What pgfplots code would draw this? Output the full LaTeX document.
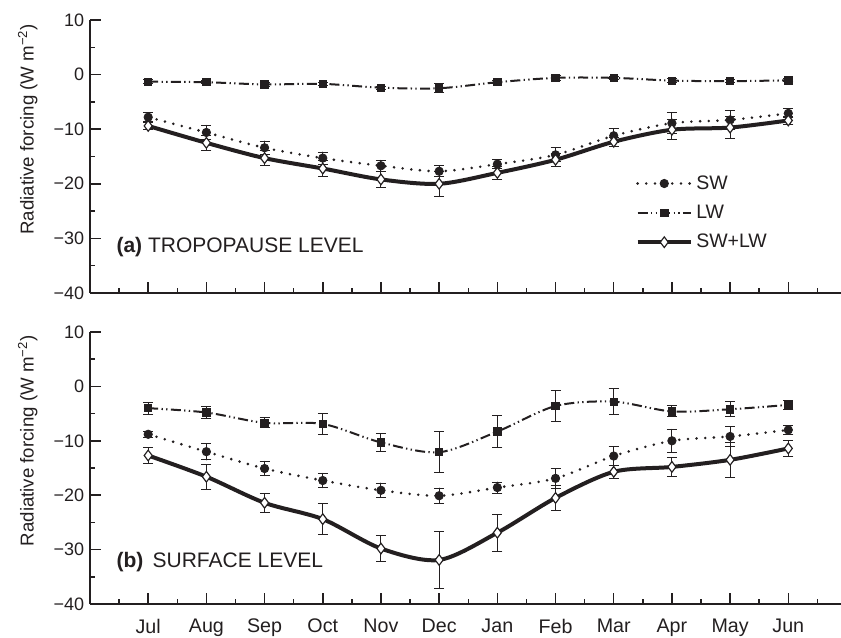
\documentclass[border=0pt]{standalone}
\usepackage{pgfplots}
\pgfplotsset{compat=1.18}
\usepackage{pgfplotstable}
\usepackage{fontspec}
\setmainfont{Liberation Sans}
\definecolor{ink}{RGB}{35,31,32}

\pgfplotstableread{
x sw swe lw lwe t te
0 -7.8 0.8 -1.3 0.4 -9.4 0.7
1 -10.6 1.3 -1.4 0.3 -12.5 1.4
2 -13.4 1.2 -1.8 0.3 -15.3 1.4
3 -15.3 1.1 -1.7 0.3 -17.2 1.5
4 -16.7 1.0 -2.4 0.3 -19.2 1.5
5 -17.7 1.0 -2.5 0.8 -20.0 2.3
6 -16.4 0.8 -1.4 0.3 -18.0 1.2
7 -14.7 1.3 -0.6 0.4 -15.6 1.2
8 -11.2 1.3 -0.6 0.3 -12.3 0.8
9 -8.9 1.9 -1.1 0.3 -10.1 1.8
10 -8.3 1.7 -1.2 0.3 -9.7 2.0
11 -7.1 0.8 -1.05 0.3 -8.4 0.7
}\toptable

\pgfplotstableread{
x sw swe lw lwe t te
0 -8.8 0.6 -4.0 1.1 -12.7 1.5
1 -12.0 1.5 -4.8 1.1 -16.6 2.3
2 -15.1 1.3 -6.7 0.9 -21.4 1.8
3 -17.3 1.3 -6.9 1.9 -24.4 2.9
4 -19.1 1.3 -10.3 1.7 -29.8 2.4
5 -20.1 1.4 -12.1 3.8 -31.9 5.3
6 -18.6 1.0 -8.3 2.9 -26.9 3.4
7 -16.9 1.8 -3.6 2.8 -20.5 2.3
8 -12.8 1.7 -2.8 2.4 -15.7 1.2
9 -10.0 2.1 -4.6 1.0 -14.8 1.7
10 -9.2 1.8 -4.2 1.4 -13.5 3.2
11 -8.0 0.8 -3.4 0.9 -11.4 1.4
}\bottable

\pgfplotsset{
  panel/.style={
    scale only axis,
    width=450.4pt,
    xmin=-1, xmax=11.9,
    ymin=-40, ymax=10,
    axis x line*=bottom,
    axis y line*=left,
    axis line style={line width=1.1pt, ink},
    xtick={0,...,11},
    minor xtick={-0.5,0.5,...,11.5},
    ytick={-40,-30,-20,-10,0,10},
    yticklabels={−40,−30,−20,−10,0,10},
    minor ytick={-35,-25,-15,-5,5},
    tick align=inside,
    major tick length=6.5pt,
    minor tick length=2.8pt,
    tick style={line width=0.9pt, ink},
    yticklabel style={font=\fontsize{10.8}{12}\selectfont, text=ink},
    xticklabel style={font=\fontsize{11.8}{13}\selectfont, text=ink, yshift=-5.5pt},
    ylabel={Radiative forcing (W m\textsuperscript{−2})},
    ylabel style={font=\fontsize{11.2}{13}\selectfont, text=ink, at={(axis description cs:-0.062,0.6)}, anchor=south},
    clip=false,
    error bars/y dir=both,
    error bars/y explicit,
    error bars/error bar style={line width=0.6pt, ink, solid},
    error bars/error mark options={rotate=90, mark size=3pt, line width=0.6pt, ink, solid},
  },
  swstyle/.style={ink, line width=1.7pt, line cap=round, dash pattern=on 0pt off 5.2pt, smooth, mark=*, mark size=2.5pt, mark options={solid, fill=ink, draw=ink, line width=0.5pt}},
  lwstyle/.style={ink, line width=1.2pt, dash pattern=on 6pt off 2pt on 0.8pt off 2pt on 0.8pt off 2pt, smooth, mark=square*, mark size=2.2pt, mark options={solid, fill=ink, draw=ink, line width=0.5pt}},
  totstyle/.style={ink, line width=2.4pt, smooth, mark=diamond*, mark size=3.2pt, mark options={solid, fill=white, draw=ink, line width=0.7pt}},
}

\begin{document}
\begin{tikzpicture}
\path[use as bounding box] (0,0) rectangle (504.6pt,382.2pt);

\begin{axis}[panel,
  at={(54pt,206.4pt)}, anchor=south west,
  height=163.8pt,
  xticklabels={},
  legend style={at={(axis cs:8.37,-17.8)}, anchor=north west, draw=none, fill=none,
    font=\fontsize{11.7}{13}\selectfont, text=ink, inner sep=0pt, row sep=4pt,
    /tikz/every even column/.append style={column sep=2pt}},
  legend cell align=left,
  legend image code/.code={\draw[mark repeat=2, mark phase=2, #1] plot coordinates {(0pt,0pt) (16pt,0pt) (32pt,0pt)};},
]
\addlegendimage{swstyle}
\addlegendentry{SW}
\addlegendimage{lwstyle}
\addlegendentry{LW}
\addlegendimage{totstyle}
\addlegendentry{SW+LW}
\addplot[swstyle, forget plot] table[x=x, y=sw, y error=swe] {\toptable};
\addplot[lwstyle, forget plot] table[x=x, y=lw, y error=lwe] {\toptable};
\addplot[totstyle, forget plot] table[x=x, y=t, y error=te] {\toptable};
\node[anchor=west, inner sep=0pt, font=\fontsize{12.6}{14}\selectfont, text=ink] at (axis cs:-0.55,-31.6) {\textbf{(a)} TROPOPAUSE LEVEL};
\end{axis}

\begin{axis}[panel,
  at={(54pt,19.8pt)}, anchor=south west,
  height=163.2pt,
  xticklabels={Jul,Aug,Sep,Oct,Nov,Dec,Jan,Feb,Mar,Apr,May,Jun},
]
\addplot[swstyle] table[x=x, y=sw, y error=swe] {\bottable};
\addplot[lwstyle] table[x=x, y=lw, y error=lwe] {\bottable};
\addplot[totstyle] table[x=x, y=t, y error=te] {\bottable};
\node[anchor=west, inner sep=0pt, font=\fontsize{12.6}{14}\selectfont, text=ink] at (axis cs:-0.55,-32.3) {\textbf{(b)}\, SURFACE LEVEL};
\end{axis}
\end{tikzpicture}
\end{document}
